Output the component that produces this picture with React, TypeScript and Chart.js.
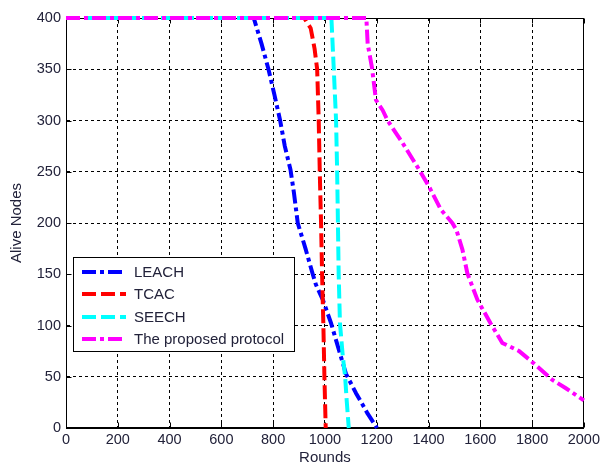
import React, { useEffect, useRef } from 'react';
import { Chart, registerables } from 'chart.js';

Chart.register(...registerables);

// ---- data ----
const seriesNames = ['LEACH', 'TCAC', 'SEECH', 'The proposed protocol'];

const leachRounds = [0, 725, 755, 782, 805, 827, 845, 867, 880, 895, 925, 953, 965, 992, 1024, 1046, 1081, 1120, 1165, 1201];
const leachNodes = [400, 400, 375, 350, 325, 300, 275, 252, 230, 200, 175, 150, 140, 125, 102, 83, 53, 34, 14, 0];

const tcacRounds = [0, 920, 945, 960, 970, 976, 980, 985, 989, 994, 998, 1003];
const tcacNodes = [400, 400, 390, 370, 350, 300, 250, 200, 150, 100, 50, 0];

const seechRounds = [0, 1025, 1034, 1043, 1047, 1049, 1053, 1058, 1069, 1078, 1084, 1092];
const seechNodes = [400, 400, 351, 300, 252, 220, 151, 102, 70, 50, 27, 0];

const proposedRounds = [0, 1160, 1165, 1182, 1197, 1223, 1242, 1300, 1364, 1403, 1448, 1492, 1508, 1531, 1550, 1589, 1640, 1685, 1750, 1807, 1878, 1929, 2000];
const proposedNodes = [400, 400, 375, 351, 320, 310, 300, 278, 252, 235, 213, 200, 193, 174, 151, 125, 102, 83, 75, 63, 47, 39, 27];

const xTickStep = 200;
const yTickStep = 50;
const xMin = 0, xMax = 2000, yMin = 0, yMax = 400;
const xTitle = 'Rounds';
const yTitle = 'Alive Nodes';

// ---- styles ----
const FONT = "'Liberation Sans', Arial, sans-serif";
const TEXT = '#22223a';
const colors = ['#0000FF', '#FF0000', '#00FFFF', '#FF00FF'];
const DASH_DOT = [14, 4, 4, 4];
const DASHED = [14, 5];
const dashes = [DASH_DOT, DASHED, DASHED, DASH_DOT];
const drawOrder = [4, 3, 2, 1];

const zip = (xs: number[], ys: number[]) => xs.map((x, i) => ({ x, y: ys[i] }));

const framePlugin = {
  id: 'matlabFrame',
  beforeDatasetsDraw(chart: any) {
    const { ctx, chartArea: a, scales } = chart;
    const l = Math.round(a.left) + 0.5;
    const r = Math.round(a.right) - 0.5;
    const t = Math.round(a.top) + 0.5;
    const b = Math.round(a.bottom) - 0.5;
    ctx.save();
    ctx.setLineDash([]);
    ctx.strokeStyle = '#000';
    ctx.lineWidth = 1;
    ctx.strokeRect(l, t, r - l, b - t);
    const tl = 5;
    ctx.beginPath();
    for (let v = xMin; v <= xMax; v += xTickStep) {
      const px = Math.round(scales.x.getPixelForValue(v)) + 0.5;
      ctx.moveTo(px, b); ctx.lineTo(px, b - tl);
      ctx.moveTo(px, t); ctx.lineTo(px, t + tl);
    }
    for (let v = yMin; v <= yMax; v += yTickStep) {
      const py = Math.round(scales.y.getPixelForValue(v)) + 0.5;
      ctx.moveTo(l, py); ctx.lineTo(l + tl, py);
      ctx.moveTo(r, py); ctx.lineTo(r - tl, py);
    }
    ctx.stroke();
    ctx.restore();
  },
  afterDraw(chart: any) {
    const { ctx, chartArea: a } = chart;
    ctx.save();
    // axis titles
    ctx.fillStyle = TEXT;
    ctx.font = `15px ${FONT}`;
    ctx.textAlign = 'center';
    ctx.textBaseline = 'middle';
    ctx.fillText(xTitle, (a.left + a.right) / 2, 458);
    ctx.save();
    ctx.translate(17, (a.top + a.bottom) / 2);
    ctx.rotate(-Math.PI / 2);
    ctx.fillText(yTitle, 0, 0);
    ctx.restore();

    // legend (MATLAB style, inside the axes)
    const bx = 73.5, by = 257.5, bw = 221, bh = 94;
    ctx.fillStyle = '#fff';
    ctx.fillRect(bx, by, bw, bh);
    ctx.strokeStyle = '#000';
    ctx.lineWidth = 1;
    ctx.setLineDash([]);
    ctx.strokeRect(bx, by, bw, bh);
    const rows = [272, 294, 317, 339];
    seriesNames.forEach((name, i) => {
      ctx.save();
      ctx.strokeStyle = colors[i];
      ctx.lineWidth = 4;
      ctx.setLineDash(dashes[i]);
      ctx.beginPath();
      ctx.moveTo(82, rows[i]);
      ctx.lineTo(126, rows[i]);
      ctx.stroke();
      ctx.restore();
      ctx.fillStyle = TEXT;
      ctx.font = `15px ${FONT}`;
      ctx.textAlign = 'left';
      ctx.textBaseline = 'middle';
      ctx.fillText(name, 134, rows[i] + 1);
    });
    ctx.restore();
  },
};

export default function App() {
  const ref = useRef<HTMLCanvasElement | null>(null);

  useEffect(() => {
    if (!ref.current) return;
    const allX = [leachRounds, tcacRounds, seechRounds, proposedRounds];
    const allY = [leachNodes, tcacNodes, seechNodes, proposedNodes];
    const chart = new Chart(ref.current, {
      type: 'line',
      data: {
        datasets: seriesNames.map((name, i) => ({
          label: name,
          data: zip(allX[i], allY[i]),
          borderColor: colors[i],
          backgroundColor: colors[i],
          borderWidth: 4,
          borderDash: dashes[i],
          borderCapStyle: 'butt',
          borderJoinStyle: 'round',
          pointRadius: 0,
          pointHoverRadius: 0,
          tension: 0,
          fill: false,
          clip: 6,
          order: drawOrder[i],
        })),
      },
      options: {
        responsive: false,
        animation: false,
        events: [],
        layout: { padding: { top: 18, right: 18, left: 0, bottom: 0 } },
        plugins: {
          legend: { display: false },
          tooltip: { enabled: false },
          title: { display: false },
        },
        scales: {
          x: {
            type: 'linear',
            min: xMin,
            max: xMax,
            afterFit(scale: any) { scale.height = 38; },
            ticks: {
              stepSize: xTickStep,
              color: TEXT,
              font: { family: FONT, size: 14.5 },
              padding: 3,
              maxRotation: 0,
              autoSkip: false,
              callback: (v: any) => String(v),
            },
            grid: { color: '#000', lineWidth: 1, drawTicks: false },
            border: { display: true, color: '#000', width: 1, dash: [3, 3] },
          },
          y: {
            type: 'linear',
            min: yMin,
            max: yMax,
            afterFit(scale: any) { scale.width = 66; },
            ticks: {
              stepSize: yTickStep,
              color: TEXT,
              font: { family: FONT, size: 14.5 },
              padding: 5,
              autoSkip: false,
              callback: (v: any) => String(v),
            },
            grid: { color: '#000', lineWidth: 1, drawTicks: false },
            border: { display: true, color: '#000', width: 1, dash: [3, 3] },
          },
        },
      },
      plugins: [framePlugin],
    } as any);
    return () => chart.destroy();
  }, []);

  return (
    <div style={{ position: 'absolute', left: 0, top: 0, width: 603, height: 466, background: '#fff' }}>
      <canvas ref={ref} width={603} height={466} style={{ display: 'block' }} />
    </div>
  );
}
